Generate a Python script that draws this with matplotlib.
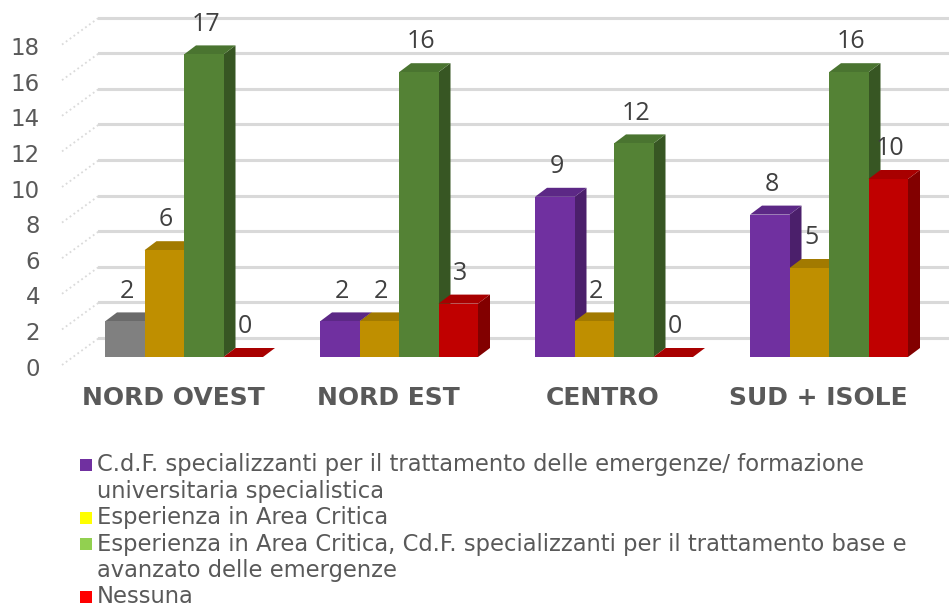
import numpy as np
import matplotlib.pyplot as plt
from matplotlib.patches import Polygon, Rectangle

plt.rcParams["font.family"] = ["DejaVu Sans"]

# 数据
categories = ['NORD OVEST', 'NORD EST', 'CENTRO', 'SUD + ISOLE']
series_names = [
    'C.d.F. specializzanti per il trattamento delle emergenze/ formazione\nuniversitaria specialistica',
    'Esperienza in Area Critica',
    'Esperienza in Area Critica, Cd.F. specializzanti per il trattamento base e\navanzato delle emergenze',
    'Nessuna',
]
cdf = [2, 2, 9, 8]
area_critica = [6, 2, 2, 5]
area_critica_cdf = [17, 16, 12, 16]
nessuna = [0, 3, 0, 10]
series_values = [cdf, area_critica, area_critica_cdf, nessuna]
yticks = list(range(0, 19, 2))

# 颜色 (正面, 顶面, 侧面)
front = ['#7030A0', '#BF8F00', '#548235', '#C00000']
top = ['#5C2886', '#A27A00', '#4A7430', '#A80000']
side = ['#4B1F6B', '#7F6000', '#375623', '#820000']
legend_colors = ['#7030A0', '#FFFF00', '#92D050', '#FF0000']
# 第一个柱子是灰色
special = {(0, 0): ('#808080', '#6A6A6A', '#5A5A5A')}

# 像素比例
px_x = 215.0   # 每组的像素宽度
px_y = 17.8    # 每单位的像素高度
w = 39.5 / px_x
ddx, ddy = 12 / px_x, 9 / px_y
wall_dy = 19 / px_y

fig = plt.figure(figsize=(9.49, 6.10), dpi=100)
ax = fig.add_axes([0, 0, 1, 1])
ax.set_xlim(-105 / px_x, 844 / px_x)
ax.set_ylim(-(610 - 357) / px_y, 357 / px_y)
ax.axis('off')

# 背景网格线和斜线
x_wall = -6 / px_x
x_front = -43 / px_x
for v in yticks:
    ax.plot([x_wall, 5], [v + wall_dy, v + wall_dy], color='#D9D9D9', lw=2.2, zorder=1)
    ax.plot([x_front, x_wall], [v - 8 / px_y, v + wall_dy], color='#DADADA', lw=1.3,
            ls=':', zorder=1)
    ax.text(-65 / px_x, v - 12 / px_y, str(v), ha='right', va='center', fontsize=16.5,
            color='#595959')

# 3D 柱子
for i in range(len(categories)):
    for j, vals in enumerate(series_values):
        v = vals[i]
        x0 = i + j * w
        cf, ct, cs = special.get((i, j), (front[j], top[j], side[j]))
        ax.add_patch(Polygon([(x0 + w, 0), (x0 + w + ddx, ddy), (x0 + w + ddx, v + ddy),
                              (x0 + w, v)], closed=True, fc=cs, lw=0, zorder=2))
        ax.add_patch(Polygon([(x0, v), (x0 + w, v), (x0 + w + ddx, v + ddy),
                              (x0 + ddx, v + ddy)], closed=True, fc=ct, lw=0, zorder=2))
        ax.add_patch(Rectangle((x0, 0), w, v, fc=cf, lw=0, zorder=2))
        ax.text(x0 + w / 2 + 2 / px_x, v + 1.7, str(v), ha='center', va='center',
                fontsize=18, color='#404040', family='Open Sans', zorder=3)
    ax.text(i + 2 * w - 11 / px_x, -41 / px_y, categories[i], ha='center', va='center',
            fontsize=18, fontweight='bold', color='#595959')

# 图例
line_h = 26.4
y_px = 465
for name, c in zip(series_names, legend_colors):
    y = (357 - y_px) / px_y
    ax.add_patch(Rectangle((-25 / px_x, y - 6 / px_y), 12 / px_x, 12 / px_y, fc=c, lw=0))
    for k, line in enumerate(name.split('\n')):
        ax.text(-8 / px_x, (357 - y_px - k * line_h) / px_y, line, ha='left', va='center',
                fontsize=16.3, color='#595959')
    y_px += line_h * len(name.split('\n'))

fig.savefig('out.png', dpi=100)
